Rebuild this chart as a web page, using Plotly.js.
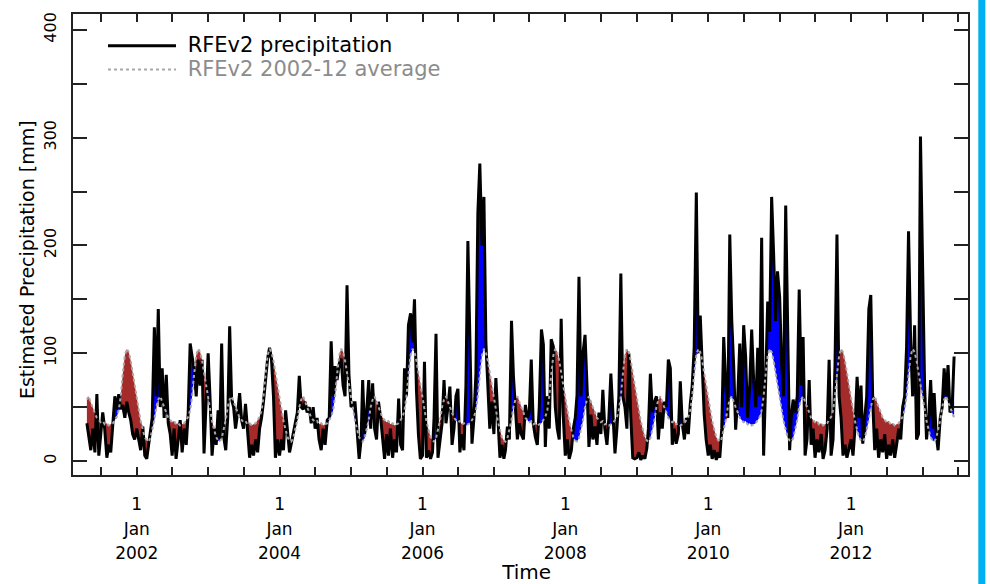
<!DOCTYPE html>
<html><head><meta charset="utf-8">
<script src="https://cdn.plot.ly/plotly-3.0.1.min.js"></script>
<style>html,body{margin:0;padding:0;background:#fff}#chart{width:990px;height:584px}</style>
</head><body><div id="chart"></div>
<script>
// Dekadal (10-day) RFEv2 precipitation [mm]; 2001 starts at dekad 12, 2013 ends at dekad 17
const firstDekad2001 = 12;
const rfe2001 = [35,20,10,30,8,62,5,25,45,30,3,15,8,35,60,48,62,48,52,40,55,45,38,25,20];
const rfe2002 = [30,18,10,32,5,2,12,25,40,124,60,141,50,86,40,80,35,25,5,30,2,20,38,8,30,15,45,109,97,85,60,94,70,94,7,55];
const rfe2003 = [100,57,5,30,15,47,20,109,23,10,40,125,57,50,30,45,63,38,30,53,25,3,15,5,20,8,30,40,55,75,95,105,94,60,3,20];
const rfe2004 = [5,20,10,47,30,8,16,25,35,45,79,50,48,55,45,50,35,50,30,40,20,10,30,15,38,40,111,60,88,75,90,95,70,60,163,80];
const rfe2005 = [50,54,54,30,2,20,75,25,45,75,30,72,30,20,55,40,20,2,25,5,30,3,20,8,58,15,10,86,60,126,137,110,150,66,25,2];
const rfe2006 = [5,92,3,10,2,8,40,118,3,20,35,75,35,50,69,15,30,60,67,8,25,10,70,204,86,16,40,81,230,276,200,245,110,70,30,55];
const rfe2007 = [25,77,40,3,15,2,10,32,20,130,78,50,20,35,25,20,52,40,45,94,35,22,15,50,122,108,13,60,30,113,106,50,30,20,132,44];
const rfe2008 = [5,20,2,10,30,40,61,171,60,101,117,70,13,43,20,32,15,45,25,66,30,15,40,81,41,7,30,60,174,60,50,30,100,40,3,2];
const rfe2009 = [3,8,1,5,2,12,30,81,45,55,60,20,45,30,55,50,94,86,15,30,16,25,74,35,20,40,25,53,70,105,249,100,135,84,44,20];
const rfe2010 = [5,15,2,10,1,8,3,30,115,69,40,210,131,88,29,60,109,50,126,97,40,70,122,75,50,105,60,207,5,70,148,120,245,193,130,176];
const rfe2011 = [152,90,60,237,101,10,40,57,45,60,159,70,115,5,20,75,15,30,3,20,8,25,2,10,30,94,5,20,89,210,60,40,5,15,3,10];
const rfe2012 = [20,5,30,78,40,70,16,40,60,141,154,55,10,30,3,20,8,25,2,15,5,20,3,15,30,20,50,60,106,213,109,60,126,20,25,301];
const rfe2013 = [189,70,20,40,75,30,63,25,10,40,50,86,60,89,45,50,97];
// 2002-12 average per dekad of the year (dekads 1..36)
const avgByDekad = [58,47,37,29,22,19,18,21,28,38,50,57,60,54,50,45,40,38,36,37,34,35,33,34,35,38,41,47,60,80,98,104,101,93,82,70];

const years = [2001,2002,2003,2004,2005,2006,2007,2008,2009,2010,2011,2012,2013];
const yearData = [rfe2001,rfe2002,rfe2003,rfe2004,rfe2005,rfe2006,rfe2007,rfe2008,rfe2009,rfe2010,rfe2011,rfe2012,rfe2013];

const s17 = t => '<span style="font-size:17px">' + t + '</span>';
const ghost = t => '<span style="color:rgba(0,0,0,0)">' + t + '</span>';
const xTickVals = [];
const xTickText = [];
for (let y = 2001; y <= 2013; y++) {
  if (y > 2001) { xTickVals.push(y + '-01-01'); xTickText.push(y % 2 === 0 ? s17('1') + '<br>' + s17('Jan') + '<br>' + s17(String(y)) : ''); }
  xTickVals.push(y + '-07-01'); xTickText.push('');
}
const yTickVals = [0,50,100,150,200,250,300,350,400];
const yTickText = ['0','','100','','200','','300','','400'];

const dates = [], rfe = [], avg = [];
const dayOf = [1,11,21];
years.forEach((yr, yi) => {
  const start = yr === 2001 ? firstDekad2001 : 1;
  yearData[yi].forEach((v, i) => {
    const k = start + i;
    const m = Math.floor((k - 1) / 3) + 1;
    const d = dayOf[(k - 1) % 3];
    dates.push(yr + '-' + String(m).padStart(2,'0') + '-' + String(d).padStart(2,'0'));
    rfe.push(v);
    avg.push(avgByDekad[k - 1]);
  });
});
const upper = rfe.map((v, i) => Math.max(v, avg[i]));
const lower = rfe.map((v, i) => Math.min(v, avg[i]));

const traces = [
  {x: dates, y: avg, mode: 'lines', line: {width: 0}, showlegend: false, hoverinfo: 'skip'},
  {x: dates, y: upper, mode: 'lines', line: {width: 0}, fill: 'tonexty', fillcolor: 'rgb(0,0,255)', showlegend: false, hoverinfo: 'skip'},
  {x: dates, y: avg, mode: 'lines', line: {width: 0}, showlegend: false, hoverinfo: 'skip'},
  {x: dates, y: lower, mode: 'lines', line: {width: 0}, fill: 'tonexty', fillcolor: 'rgb(165,42,42)', showlegend: false, hoverinfo: 'skip'},
  {x: dates, y: rfe, mode: 'lines', line: {color: 'black', width: 3}, name: '<span style="font-size:21px">\u00A0RFEv2 precipitation</span>'},
  {x: dates, y: avg, mode: 'lines', line: {color: '#a8a8a8', width: 2, dash: 'dot'}, name: '<span style="font-size:21px;color:#8c8c8c">\u00A0RFEv2 2002-12 average</span>'}
];

const axisCommon = {showline: true, linecolor: '#222', linewidth: 2, mirror: 'ticks', ticks: 'inside', tickcolor: '#222', tickwidth: 2, showgrid: false, zeroline: false};

const layout = {
  width: 990, height: 584,
  margin: {l: 73, r: 22, t: 14, b: 109},
  paper_bgcolor: 'white', plot_bgcolor: 'white',
  font: {family: 'DejaVu Sans, sans-serif', color: 'black'},
  xaxis: Object.assign({}, axisCommon, {
    type: 'date', range: ['2001-02-09', '2013-08-21'],
    tickmode: 'array', tickvals: xTickVals, ticktext: xTickText, ticklen: 8,
    tickfont: {size: 19}, ticklabelstandoff: 10,
    title: {text: ghost('o') + 'Time', font: {size: 20}, standoff: 15}
  }),
  yaxis: Object.assign({}, axisCommon, {
    range: [-13, 414.7], tickmode: 'array', tickvals: yTickVals, ticktext: yTickText,
    tickangle: -90, ticklen: 14, tickfont: {size: 16}, ticklabelstandoff: 9,
    title: {text: 'Estimated Precipitation [mm]' + ghost('mn'), font: {size: 19}, standoff: 1}
  }),
  legend: {x: 0.0335, y: 0.968, xanchor: 'left', yanchor: 'top', bgcolor: 'rgba(0,0,0,0)', font: {size: 16}, itemwidth: 68, traceorder: 'normal'},
  shapes: [{type: 'rect', xref: 'paper', yref: 'paper', x0: 1.0115, x1: 1.0194, y0: -0.3, y1: 1.1, fillcolor: 'rgb(0,176,240)', line: {width: 0}, layer: 'above'}],
  showlegend: true
};

Plotly.newPlot('chart', traces, layout, {displayModeBar: false, staticPlot: true});
</script>
</body></html>
